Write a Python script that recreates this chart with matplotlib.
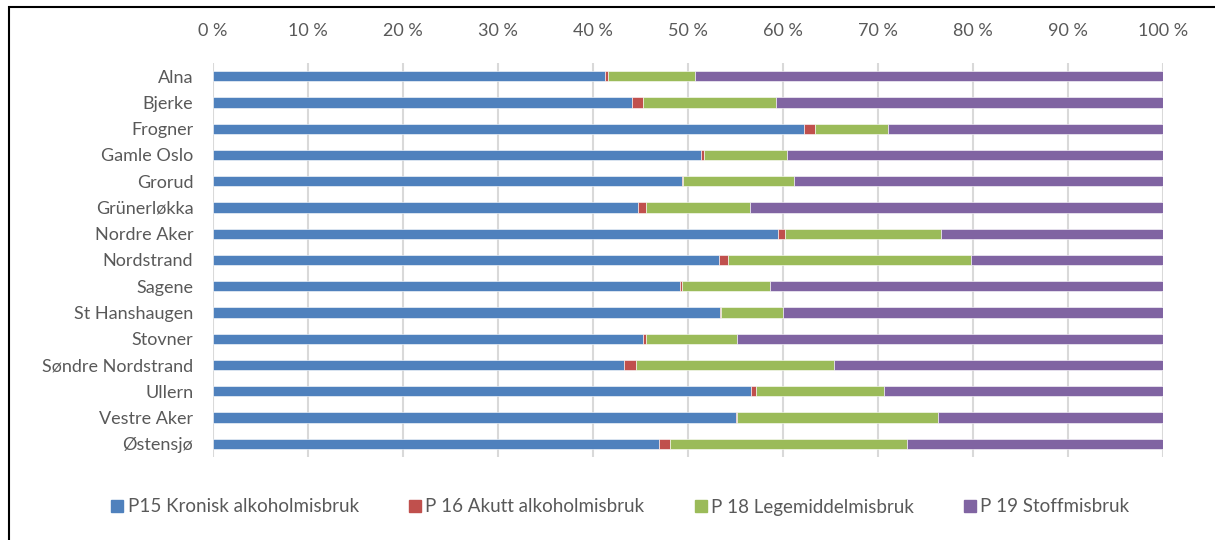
import matplotlib
matplotlib.use("Agg")
import matplotlib.pyplot as plt
from matplotlib.patches import Rectangle
from matplotlib.lines import Line2D
from matplotlib.ticker import FuncFormatter, MultipleLocator

categories = ["Alna", "Bjerke", "Frogner", "Gamle Oslo", "Grorud", "Grünerløkka",
              "Nordre Aker", "Nordstrand", "Sagene", "St Hanshaugen", "Stovner",
              "Søndre Nordstrand", "Ullern", "Vestre Aker", "Østensjø"]
p15 = [41.3, 44.1, 62.2, 51.4, 49.4, 44.8, 59.5, 53.3, 49.2, 53.4, 45.3, 43.3, 56.7, 55.1, 47.0]
p16 = [0.3, 1.2, 1.2, 0.3, 0.15, 0.8, 0.7, 0.9, 0.15, 0.15, 0.3, 1.3, 0.5, 0.1, 1.1]
p18 = [9.2, 14.0, 7.65, 8.8, 11.6, 11.0, 16.5, 25.6, 9.3, 6.5, 9.6, 20.8, 13.5, 21.1, 25.0]
p19 = [round(100 - a - b - c, 2) for a, b, c in zip(p15, p16, p18)]
series_names = ["P15 Kronisk alkoholmisbruk", "P 16 Akutt alkoholmisbruk",
                "P 18 Legemiddelmisbruk", "P 19 Stoffmisbruk"]
colors = ["#4F81BD", "#C0504D", "#9BBB59", "#8064A2"]

plt.rcParams['font.family'] = ['Lato', 'DejaVu Sans']
text_color = "#595959"

fig = plt.figure(figsize=(12.15, 5.4), dpi=100)
ax = fig.add_axes([212.7/1215, 1-457/540, 950/1215, 394/540])

y = list(range(len(categories)))
left = [0.0]*len(categories)
for vals, name, col in zip([p15, p16, p18, p19], series_names, colors):
    ax.barh(y, vals, left=left, height=0.39, color=col, label=name,
            edgecolor="white", linewidth=0.4, zorder=3)
    left = [l + v for l, v in zip(left, vals)]

ax.set_xlim(0, 100)
ax.set_ylim(len(categories) - 0.5, -0.5)
ax.set_yticks(y)
ax.set_yticklabels(categories)
ax.xaxis.set_major_locator(MultipleLocator(10))
ax.xaxis.set_major_formatter(FuncFormatter(lambda v, p: f"{int(v)} %"))
ax.xaxis.tick_top()
ax.tick_params(axis='x', length=0, pad=17, labelsize=13, colors=text_color)
ax.tick_params(axis='y', length=0, pad=14, labelsize=13, colors=text_color)
ax.grid(axis='x', color="#D9D9D9", linewidth=1.5, zorder=0)
for s in ax.spines.values():
    s.set_visible(False)

handles = [Line2D([0], [0], marker='s', linestyle='none', markersize=8,
                  markerfacecolor=c, markeredgecolor=c) for c in colors]
fig.legend(handles, series_names, loc='center', bbox_to_anchor=(0.51, 1-507/540),
           ncol=4, frameon=False, fontsize=13.5, labelcolor=text_color,
           handletextpad=0.15, columnspacing=2.6, handlelength=0.8)

fig.patches.append(Rectangle((9/1215, -0.05), 1.2, 1 - 6.5/540 + 0.05,
                             transform=fig.transFigure, fill=False,
                             edgecolor="black", linewidth=1.5))

fig.savefig("out.png", dpi=100)
